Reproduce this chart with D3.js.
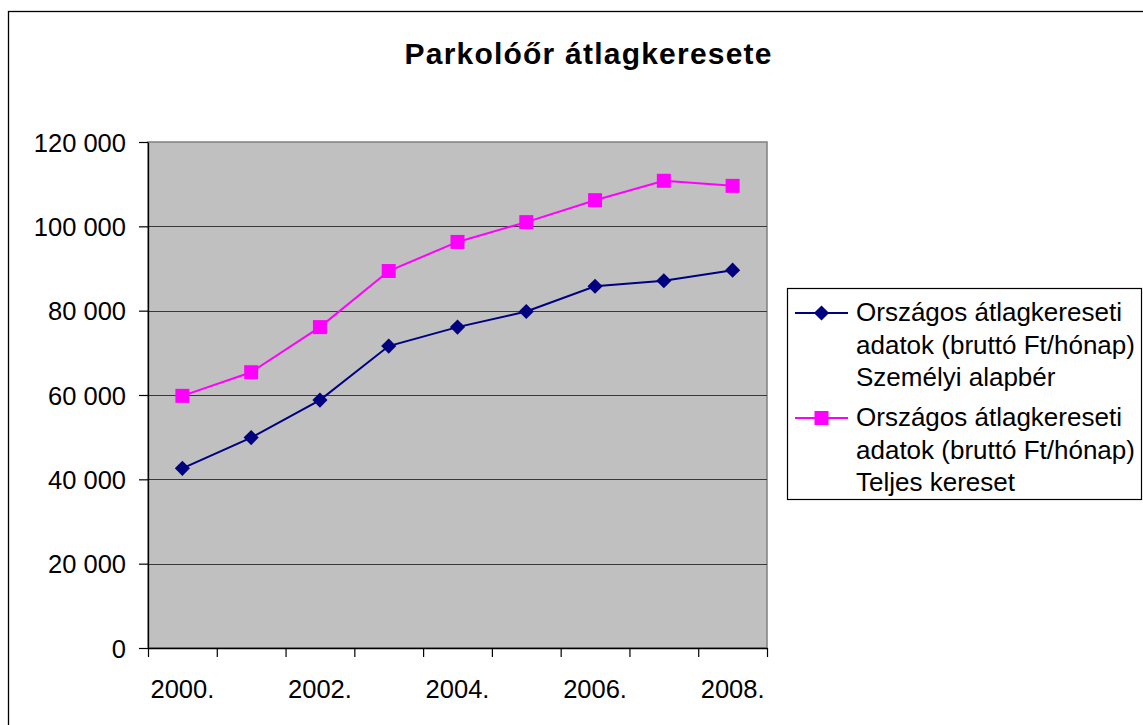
<!DOCTYPE html>
<html>
<head>
<meta charset="utf-8">
<script src="https://cdn.jsdelivr.net/npm/d3@7"></script>
<style>
  body { margin: 0; background: #fff; }
  text { font-family: "Liberation Sans", Arial, sans-serif; fill: #000; }
</style>
</head>
<body>
<svg width="1143" height="725"></svg>
<script>
var svg = d3.select('svg');

// data
var years = ['2000.', '2001.', '2002.', '2003.', '2004.', '2005.', '2006.', '2007.', '2008.'];
var alapber = [42600, 49900, 58800, 71600, 76100, 79800, 85800, 87100, 89600]; // Személyi alapbér
var kereset = [59800, 65400, 76100, 89400, 96300, 101000, 106200, 110800, 109600]; // Teljes kereset
var yTicks = [0, 20000, 40000, 60000, 80000, 100000, 120000];
var seriesNames = [
  ['Országos átlagkereseti', 'adatok (bruttó Ft/hónap)', 'Személyi alapbér'],
  ['Országos átlagkereseti', 'adatok (bruttó Ft/hónap)', 'Teljes kereset']
];
var colors = ['#000080', '#FF00FF'];

var plot = {left: 148, right: 767, top: 142, bottom: 648};

var y = d3.scaleLinear().domain([0, 120000]).range([plot.bottom, plot.top]);
var xIdx = d3.scaleLinear().domain([0, years.length]).range([plot.left, plot.right]); // category boundaries
var xc = (d, i) => xIdx(i + 0.5);

var fmt = d3.formatLocale({decimal: ',', thousands: ' ', grouping: [3], currency: ['', '']}).format(',');

// outer chart frame
svg.append('rect')
  .attr('x', 8.5).attr('y', 11.5)
  .attr('width', 1150).attr('height', 730)
  .attr('fill', 'none').attr('stroke', '#000').attr('stroke-width', 1.3);

// title
svg.append('text')
  .attr('x', 588).attr('y', 64)
  .attr('text-anchor', 'middle')
  .style('font-size', '30px').style('font-weight', 'bold')
  .attr('textLength', 367).attr('lengthAdjust', 'spacing')
  .text('Parkolóőr átlagkeresete');

// plot area
svg.append('rect')
  .attr('x', plot.left).attr('y', plot.top)
  .attr('width', plot.right - plot.left).attr('height', plot.bottom - plot.top)
  .attr('fill', '#C0C0C0').attr('stroke', '#808080').attr('stroke-width', 1.5);

// gridlines
svg.append('g')
  .selectAll('line')
  .data(yTicks.filter(d => d > 0 && d < 120000))
  .join('line')
    .attr('x1', plot.left).attr('x2', plot.right)
    .attr('y1', d => Math.round(y(d)) + 0.5).attr('y2', d => Math.round(y(d)) + 0.5)
    .attr('stroke', '#383838').attr('stroke-width', 1.2);

// y axis
var yAxis = svg.append('g')
  .attr('transform', 'translate(' + plot.left + ',0)')
  .call(d3.axisLeft(y).tickValues(yTicks).tickFormat(fmt).tickSize(9).tickSizeOuter(0).tickPadding(13));
yAxis.select('.domain').attr('stroke', '#000').attr('stroke-width', 1.3);
yAxis.selectAll('.tick line').attr('stroke', '#000').attr('stroke-width', 1.2);
yAxis.selectAll('text').attr('font-family', null).style('font-size', '25.5px').attr('dy', '0.36em');

// x axis: ticks on category boundaries, labels every second year
var xAxis = svg.append('g')
  .attr('transform', 'translate(0,' + plot.bottom + ')')
  .call(d3.axisBottom(xIdx).tickValues(d3.range(years.length + 1)).tickFormat('').tickSize(9).tickSizeOuter(0));
xAxis.select('.domain').attr('stroke', '#000').attr('stroke-width', 1.3);
xAxis.selectAll('.tick line').attr('stroke', '#000').attr('stroke-width', 1.2);

svg.append('g')
  .selectAll('text')
  .data(years)
  .join('text')
    .filter((d, i) => i % 2 === 0)
    .attr('x', (d) => xc(d, years.indexOf(d)))
    .attr('y', 698)
    .attr('text-anchor', 'middle')
    .style('font-size', '25.5px')
    .text(d => d);

// series
var line = d3.line().x((d, i) => xc(d, i)).y(d => y(d));
var diamond = d3.symbol(d3.symbolSquare, 115);
var square = d3.symbol(d3.symbolSquare, 196);

[alapber, kereset].forEach(function (vals, s) {
  svg.append('path')
    .datum(vals)
    .attr('d', line)
    .attr('fill', 'none')
    .attr('stroke', colors[s])
    .attr('stroke-width', 2);

  svg.append('g')
    .selectAll('path')
    .data(vals)
    .join('path')
      .attr('d', s === 0 ? diamond : square)
      .attr('transform', (d, i) => 'translate(' + xc(d, i) + ',' + y(d) + ')' + (s === 0 ? 'rotate(45)' : ''))
      .attr('fill', colors[s]);
});

// legend
var legend = svg.append('g');
legend.append('rect')
  .attr('x', 787.5).attr('y', 288.5)
  .attr('width', 354).attr('height', 211)
  .attr('fill', '#fff').attr('stroke', '#000').attr('stroke-width', 1.2);

seriesNames.forEach(function (lines, s) {
  var cy = 313 + s * 105;
  legend.append('line')
    .attr('x1', 795).attr('x2', 848)
    .attr('y1', cy).attr('y2', cy)
    .attr('stroke', colors[s]).attr('stroke-width', 2);
  legend.append('path')
    .attr('d', s === 0 ? diamond : square)
    .attr('transform', 'translate(821.5,' + cy + ')' + (s === 0 ? 'rotate(45)' : ''))
    .attr('fill', colors[s]);
  legend.append('g')
    .selectAll('text')
    .data(lines)
    .join('text')
      .attr('x', 856)
      .attr('y', (d, i) => cy + 8 + i * 32.5)
      .style('font-size', '26px')
      .text(d => d);
});
</script>
</body>
</html>
